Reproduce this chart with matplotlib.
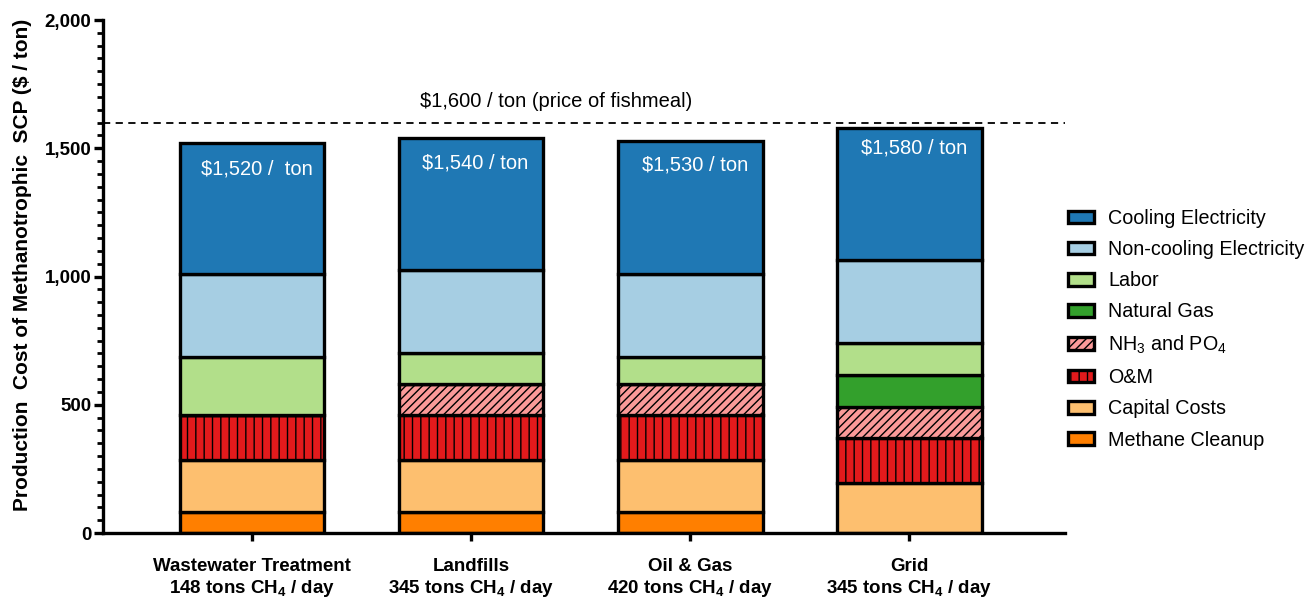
import matplotlib
matplotlib.use("Agg")
import matplotlib.pyplot as plt
import numpy as np

plt.rcParams["font.family"] = ["Liberation Sans", "DejaVu Sans"]
plt.rcParams["mathtext.default"] = "regular"
plt.rcParams["hatch.linewidth"] = 1.0

# --- data (stack order, bottom to top) ---
sites = [
    "Wastewater Treatment\n148 tons CH$_4$ / day",
    "Landfills\n345 tons CH$_4$ / day",
    "Oil & Gas\n420 tons CH$_4$ / day",
    "Grid\n345 tons CH$_4$ / day",
]
components = [
    "Methane Cleanup",
    "Capital Costs",
    "O&M",
    "NH$_3$ and PO$_4$",
    "Natural Gas",
    "Labor",
    "Non-cooling Electricity",
    "Cooling Electricity",
]
methane_cleanup = [80, 80, 80, 0]
capital_costs = [205, 205, 205, 195]
o_and_m = [175, 175, 175, 175]
nh3_po4 = [0, 120, 120, 120]
natural_gas = [0, 0, 0, 125]
labor = [225, 120, 105, 125]
noncooling_elec = [325, 325, 325, 325]
cooling_elec = [510, 515, 520, 515]
total_labels = ["$1,520 /  ton", "$1,540 / ton", "$1,530 / ton", "$1,580 / ton"]
fishmeal_price = 1600

colors = ["#ff7f00", "#fdbf6f", "#e31a1c", "#fb9a99",
          "#33a02c", "#b2df8a", "#a6cee3", "#1f78b4"]
hatches = [None, None, "||", "////", None, None, None, None]
label_drop = [100, 97, 95, 80]  # how far below the bar top each total sits

series = [methane_cleanup, capital_costs, o_and_m, nh3_po4,
          natural_gas, labor, noncooling_elec, cooling_elec]

fig = plt.figure(figsize=(13.05, 5.99), dpi=100)
ax = fig.add_axes([103 / 1305, 66 / 599, (1065 - 103) / 1305, (533 - 20) / 599])

x = np.arange(len(sites))
bottom = np.zeros(len(sites))
handles = []
for name, vals, col, hatch in zip(components, series, colors, hatches):
    vals = np.array(vals, dtype=float)
    bars = ax.bar(x, vals, width=0.66, bottom=bottom, color=col,
                  edgecolor="black", linewidth=2.4, hatch=hatch, label=name)
    handles.append(bars)
    bottom += vals

for xi, tot, lab, drop in zip(x, bottom, total_labels, label_drop):
    ax.text(xi + 0.02, tot - drop, lab, color="white", fontsize=14.5,
            ha="center", va="center")

ax.axhline(fishmeal_price, color="black", linestyle=(0, (4, 3)), linewidth=1.3)
ax.text(1.386, fishmeal_price + 45, "$1,600 / ton (price of fishmeal)",
        fontsize=14.5, ha="center", va="bottom")

ax.set_xlim(-0.68, 3.71)
ax.set_ylim(0, 2000)
ax.set_yticks([0, 500, 1000, 1500, 2000])
ax.set_yticklabels(["0", "500", "1,000", "1,500", "2,000"])
ax.set_yticks(np.arange(0, 2001, 50), minor=True)
ax.set_xticks(x)
ax.set_xticklabels(sites, fontweight="bold", fontsize=13.5, linespacing=1.2)

for lab in ax.get_yticklabels():
    lab.set_fontweight("bold")
    lab.set_fontsize(13.5)

ax.spines["top"].set_visible(False)
ax.spines["right"].set_visible(False)
ax.spines["left"].set_linewidth(2.4)
ax.spines["bottom"].set_linewidth(2.4)
ax.tick_params(axis="y", which="major", length=6.5, width=2.4, pad=2)
ax.tick_params(axis="y", which="minor", length=4, width=2.0)
ax.tick_params(axis="x", which="major", length=6, width=2.4, pad=12)

ax.set_ylabel("Production  Cost of Methanotrophic  SCP ($ / ton)",
              fontweight="bold", fontsize=15)
ax.yaxis.set_label_coords(-0.074, 0.522)

fig.legend(handles[::-1], components[::-1], loc="upper left",
           bbox_to_anchor=(1050 / 1305, 1 - 191 / 599), frameon=False,
           fontsize=14.2, labelspacing=0.62, handlelength=1.35,
           handleheight=0.6, handletextpad=0.7)

fig.savefig("out.png", dpi=100)
